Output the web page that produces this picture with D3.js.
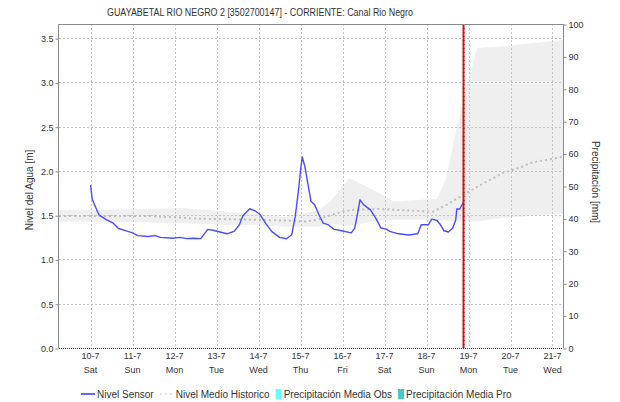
<!DOCTYPE html>
<html>
<head>
<meta charset="utf-8">
<script src="https://cdn.jsdelivr.net/npm/d3@7"></script>
<style>
  html, body { margin: 0; padding: 0; background: #fff; }
  svg { display: block; font-family: "Liberation Sans", Arial, sans-serif; }
</style>
</head>
<body>
<svg id="chart" width="620" height="402"></svg>
<script>
// Station level series, hours counted from 10-7 00:00
const sensorHours = [0, 1, 4, 5, 9, 11, 13, 16, 20, 24, 27, 33, 37, 40, 47, 51, 55, 59, 63, 67, 70, 74, 78, 82, 85, 87, 91, 94, 97, 100, 103.5, 108, 112, 115, 117, 119, 120, 121, 122.5, 124.5, 126, 128, 131, 133, 136, 139, 143.5, 149, 151, 153, 154, 156, 160, 163, 166, 169, 171, 176, 182, 187, 189, 193, 195, 198, 200, 202, 204.5, 207, 208.7, 209.3, 211, 213];
const sensorLevel = [1.84, 1.68, 1.54, 1.50, 1.45, 1.43, 1.41, 1.35, 1.325, 1.30, 1.27, 1.26, 1.27, 1.25, 1.24, 1.25, 1.235, 1.24, 1.235, 1.34, 1.33, 1.31, 1.29, 1.317, 1.39, 1.49, 1.573, 1.55, 1.505, 1.41, 1.317, 1.25, 1.234, 1.28, 1.486, 1.806, 2.0, 2.157, 2.05, 1.825, 1.655, 1.62, 1.486, 1.41, 1.39, 1.343, 1.325, 1.30, 1.355, 1.56, 1.674, 1.62, 1.56, 1.467, 1.355, 1.343, 1.317, 1.29, 1.276, 1.29, 1.392, 1.392, 1.456, 1.44, 1.392, 1.324, 1.31, 1.355, 1.448, 1.57, 1.57, 1.644];

// Historic mean level
const histHours = [-18, 0, 34, 63, 91, 111, 122.6, 130, 137, 143.7, 149.4, 165.4, 184.3, 195.7, 203.7, 212.9, 222.6, 235.7, 247.1, 251.1, 270];
const histLevel = [1.49, 1.49, 1.49, 1.46, 1.45, 1.44, 1.43, 1.45, 1.50, 1.54, 1.56, 1.57, 1.55, 1.54, 1.62, 1.73, 1.84, 1.976, 2.05, 2.09, 2.16];

// Historic range (min / max)
const rangeHours = [-18, 0, 28, 53, 78, 92, 111, 130, 137, 148, 165, 173, 194, 198, 203, 209, 216, 221, 236, 251, 270];
const rangeMax = [1.56, 1.56, 1.57, 1.58, 1.54, 1.52, 1.48, 1.55, 1.655, 1.92, 1.75, 1.655, 1.68, 1.69, 1.90, 2.46, 3.03, 3.39, 3.41, 3.44, 3.48];
const rangeMin = [1.43, 1.43, 1.42, 1.41, 1.39, 1.39, 1.37, 1.37, 1.40, 1.38, 1.44, 1.45, 1.45, 1.45, 1.44, 1.43, 1.43, 1.43, 1.47, 1.49, 1.52];

// Current time marker (hours from 10-7 00:00)
const nowHour = 213;

const levelTicks = [0, 0.5, 1.0, 1.5, 2.0, 2.5, 3.0, 3.5];
const precipTicks = [0, 10, 20, 30, 40, 50, 60, 70, 80, 90, 100];
const dayNames = ["Sun", "Mon", "Tue", "Wed", "Thu", "Fri", "Sat"];

const titleText = "GUAYABETAL RIO NEGRO 2 [3502700147] - CORRIENTE: Canal Rio Negro";
const legendItems = [
  { label: "Nivel Sensor", kind: "line" },
  { label: "Nivel Medio Historico", kind: "dash" },
  { label: "Precipitación Media Obs", kind: "box", color: "#66ffff" },
  { label: "Precipitación Media Pro", kind: "box", color: "#4cc9c1" }
];

const base = new Date(2021, 6, 10, 0, 0);
const at = h => new Date(base.getTime() + h * 3600e3);

const svg = d3.select("#chart");
const L = 59, R = 563, T = 24, B = 348;

const x = d3.scaleTime().domain([new Date(2021, 6, 9, 6), new Date(2021, 6, 21, 6)]).range([L, R]);
const yL = d3.scaleLinear().domain([0, 3.66]).range([B, T]);
const yR = d3.scaleLinear().domain([0, 100]).range([B, T]);

const days = d3.timeDay.range(new Date(2021, 6, 10), new Date(2021, 6, 21, 1));

// historic range band
const band = rangeHours.map((h, i) => ({ t: at(h), lo: rangeMin[i], hi: rangeMax[i] }));
svg.append("path")
  .datum(band)
  .attr("fill", "#efefef")
  .attr("d", d3.area().x(d => x(d.t)).y0(d => yL(d.lo)).y1(d => yL(d.hi)));

// grid
const grid = svg.append("g").attr("stroke", "#c4c4c4").attr("stroke-dasharray", "2,2").attr("stroke-width", 1);
grid.selectAll("line.v").data(days).join("line")
  .attr("x1", d => Math.round(x(d)) + 0.5).attr("x2", d => Math.round(x(d)) + 0.5)
  .attr("y1", T).attr("y2", B);
grid.selectAll("line.h").data(levelTicks.filter(v => v > 0)).join("line")
  .attr("x1", L).attr("x2", R)
  .attr("y1", d => Math.round(yL(d)) + 0.5).attr("y2", d => Math.round(yL(d)) + 0.5);

// historic mean line
const hist = histHours.map((h, i) => ({ t: at(h), v: histLevel[i] }));
svg.append("path")
  .datum(hist)
  .attr("fill", "none")
  .attr("stroke", "#bdbdbd")
  .attr("stroke-width", 2)
  .attr("stroke-dasharray", "2,3")
  .attr("d", d3.line().x(d => x(d.t)).y(d => yL(d.v)));

// sensor line
const sensor = sensorHours.map((h, i) => ({ t: at(h), v: sensorLevel[i] }));
svg.append("path")
  .datum(sensor)
  .attr("fill", "none")
  .attr("stroke", "#4b4bff")
  .attr("stroke-width", 1.4)
  .attr("stroke-linejoin", "round")
  .attr("d", d3.line().x(d => x(d.t)).y(d => yL(d.v)));

// current time marker
const nx = Math.round(x(at(nowHour))) + 0.5;
svg.append("line").attr("x1", nx).attr("x2", nx).attr("y1", T).attr("y2", B)
  .attr("stroke", "#e01010").attr("stroke-width", 2);
svg.append("line").attr("x1", nx + 0.5).attr("x2", nx + 0.5).attr("y1", T).attr("y2", B)
  .attr("stroke", "#7a1010").attr("stroke-width", 1).attr("stroke-dasharray", "1,3");

// frame
svg.append("line").attr("x1", L).attr("x2", R).attr("y1", T + 0.5).attr("y2", T + 0.5).attr("stroke", "#8a8a8a");
svg.append("line").attr("x1", L - 0.5).attr("x2", L - 0.5).attr("y1", T).attr("y2", B).attr("stroke", "#8a8a8a");
svg.append("line").attr("x1", R + 0.5).attr("x2", R + 0.5).attr("y1", T).attr("y2", B).attr("stroke", "#8a8a8a");
svg.append("line").attr("x1", L).attr("x2", R).attr("y1", B + 0.5).attr("y2", B + 0.5)
  .attr("stroke", "#333").attr("stroke-dasharray", "1,1");

// left axis
const leftAxis = d3.axisLeft(yL).tickValues(levelTicks).tickFormat(d3.format(".1f")).tickSize(3).tickPadding(2);
const gl = svg.append("g").attr("transform", `translate(${L - 0.5},0.5)`).call(leftAxis);
gl.select(".domain").remove();
gl.selectAll(".tick line").attr("stroke", "#8a8a8a");
gl.selectAll("text").attr("font-size", 9).attr("fill", "#333").attr("font-family", "Liberation Sans, Arial, sans-serif");

// right axis
const rightAxis = d3.axisRight(yR).tickValues(precipTicks).tickSize(3).tickPadding(2);
const gr = svg.append("g").attr("transform", `translate(${R + 0.5},0.5)`).call(rightAxis);
gr.select(".domain").remove();
gr.selectAll(".tick line").attr("stroke", "#8a8a8a");
gr.selectAll("text").attr("font-size", 9).attr("fill", "#333").attr("font-family", "Liberation Sans, Arial, sans-serif");

// bottom axis: date + weekday
const fmtDay = d3.timeFormat("%-d-%-m");
const gb = svg.append("g").attr("font-size", 9).attr("fill", "#333").attr("text-anchor", "middle");
gb.selectAll("text.d").data(days).join("text")
  .attr("x", d => x(d)).attr("y", 359).text(d => fmtDay(d));
gb.selectAll("text.w").data(days).join("text")
  .attr("x", d => x(d)).attr("y", 373).text(d => dayNames[d.getDay()]);

// title
svg.append("text").attr("x", 260).attr("y", 16).attr("text-anchor", "middle")
  .attr("font-size", 10).attr("fill", "#333")
  .attr("textLength", 306).attr("lengthAdjust", "spacingAndGlyphs")
  .text(titleText);

// axis titles
svg.append("text").attr("transform", "translate(33,190) rotate(-90)")
  .attr("text-anchor", "middle").attr("font-size", 10).attr("fill", "#333")
  .text("Nivel del Agua [m]");
svg.append("text").attr("transform", "translate(592,182) rotate(90)")
  .attr("text-anchor", "middle").attr("font-size", 10).attr("fill", "#333")
  .text("Precipitación [mm]");

// legend
const lg = svg.append("g").attr("font-size", 10).attr("fill", "#333");
let lx = 81;
const ly = 394;
legendItems.forEach(item => {
  if (item.kind === "line") {
    lg.append("line").attr("x1", lx).attr("x2", lx + 14).attr("y1", ly).attr("y2", ly)
      .attr("stroke", "#0000ff").attr("stroke-width", 1.2);
    lx += 16;
  } else if (item.kind === "dash") {
    lg.append("line").attr("x1", lx).attr("x2", lx + 12).attr("y1", ly).attr("y2", ly)
      .attr("stroke", "#c8c8c8").attr("stroke-width", 1.2).attr("stroke-dasharray", "2,3");
    lx += 16;
  } else {
    lg.append("rect").attr("x", lx).attr("y", ly - 5).attr("width", 6).attr("height", 10)
      .attr("fill", item.color);
    lx += 8;
  }
  const t = lg.append("text").attr("x", lx).attr("y", ly + 3.5).text(item.label);
  lx += t.node().getComputedTextLength() + 6;
});
</script>
</body>
</html>
